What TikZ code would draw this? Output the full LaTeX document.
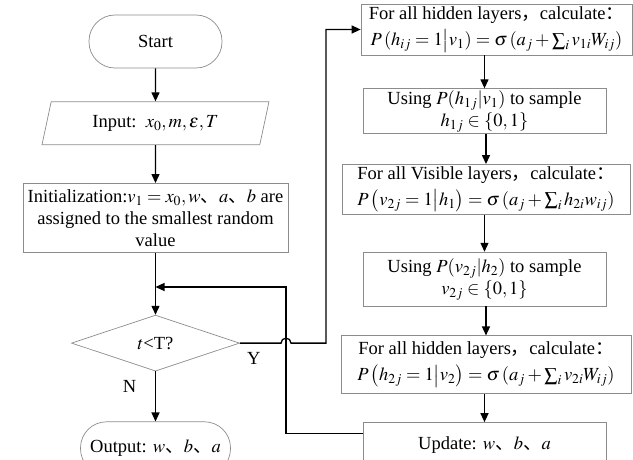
\documentclass[tikz,border=0pt]{standalone}
\usepackage{amsmath}
\usepackage{mathptmx}
\usepackage{fontspec}
\setmainfont{Liberation Serif}
\newfontfamily\cjk{Noto Sans CJK SC}
\usetikzlibrary{arrows.meta,positioning,calc,shapes.geometric}
\newcommand{\dunhao}{{\cjk 、}}
\newcommand{\fwcomma}{{\cjk ，}}
\newcommand{\fwcolon}{{\cjk ：}}

\begin{document}
\begin{tikzpicture}[
    x=1pt, y=-1pt,
    box/.style={
      draw=black!45, line width=0.7pt, align=center, inner sep=1pt,
      font=\fontsize{18.5pt}{22pt}\selectfont
    },
    termbox/.style={box, rounded corners=26pt, minimum width=133pt,
                    minimum height=53pt},
    iobox/.style={box, trapezium, trapezium left angle=63,
                  trapezium right angle=117, trapezium stretches body,
                  minimum height=43pt, minimum width=227pt},
    procbox/.style={box, minimum width=243pt, minimum height=45pt},
    decbox/.style={box, diamond, inner sep=0pt, minimum width=168pt,
                   minimum height=56pt},
    lbl/.style={font=\fontsize{18.5pt}{22pt}\selectfont, inner sep=1pt},
    arr/.style={-{Triangle[length=9pt,width=8pt]}, line width=1.3pt,
                color=black},
  ]
  \useasboundingbox (0,0) rectangle (633,460);

  % --- LEFT COLUMN ---
  \node[termbox] (start) at (155.5,41.5) {Start};
  \node[iobox, below=33pt of start] (inp)
    {Input:\ \ $x_0,m,\varepsilon,T$};
  \node[procbox, below=38pt of inp, minimum width=265pt,
        minimum height=69pt] (init)
    {Initialization:$v_1=x_0,w$\dunhao$a$\dunhao$b$ are\\
     assigned to the smallest random\\value};
  \node[decbox, below=62pt of init] (dec) {$t$<T?};
  \node[termbox, below=50pt of dec, minimum width=150pt] (out)
    {Output: $w$\dunhao$b$\dunhao$a$};

  \node[lbl, below right=8pt and 6pt of dec.east] (ylab) {Y};
  \node[lbl, below left=8pt and 18pt of dec.south] (nlab) {N};

  % Arrows left
  \foreach \a/\b in {start/inp, inp/init, init/dec, dec/out}
    \draw[arr] (\a) -- (\b);

  % --- RIGHT COLUMN ---
  \node[procbox, minimum width=271pt, minimum height=51pt] (b1)
    at (496.5,29.5)
    {For all hidden layers\fwcomma calculate\fwcolon\\[4pt]
     $P\left(h_{ij}=1\middle|\boldsymbol{v}_1\right)
      =\sigma\left(a_j+\sum_i v_{1i}W_{ij}\right)$};
  \node[procbox, below=33pt of b1, xshift=-12pt] (b2)
    {Using $P(h_{1j}|v_1)$ to sample\\$h_{1j}\in\{0,1\}$};
  \node[procbox, below=30pt of b2, xshift=1.5pt, minimum width=288pt,
        minimum height=50pt] (b3)
    {For all Visible layers\fwcomma calculate\fwcolon\\[4pt]
     $P\left(v_{2j}=1\middle|\boldsymbol{h}_1\right)
      =\sigma\left(a_j+\sum_i h_{2i}w_{ij}\right)$};
  \node[procbox, below=37pt of b3, xshift=-1.5pt, minimum height=54pt] (b4)
    {Using $P(v_{2j}|h_2)$ to sample\\$v_{2j}\in\{0,1\}$};
  \node[procbox, below=29pt of b4, xshift=1.5pt, minimum width=290pt,
        minimum height=58pt] (b5)
    {For all hidden layers\fwcomma calculate\fwcolon\\[4pt]
     $P\left(h_{2j}=1\middle|\boldsymbol{v}_2\right)
      =\sigma\left(a_j+\sum_i v_{2i}W_{ij}\right)$};
  \node[procbox, below=28pt of b5, xshift=-1.5pt] (b6)
    {Update: $w$\dunhao$b$\dunhao$a$};

  % Arrows right
  \foreach \a/\b in {b1/b2, b2/b3, b3/b4, b4/b5, b5/b6}
    \draw[arr] (\a.south -| \b.north) -- (\b.north);

  % --- loop connectors ---
  \coordinate (loop) at (286,287);
  \coordinate (ycol) at (326,341);
  \draw[arr] (dec.east) -- ($(dec.east -| loop)+(-5pt,0)$)
    arc[start angle=180, end angle=0, radius=5pt]
    -- (dec.east -| ycol) |- (b1.west);
  \draw[arr] ($(b6.north west)+(0,11)$) -| (loop) -- (loop -| init.south);

\end{tikzpicture}
\end{document}
